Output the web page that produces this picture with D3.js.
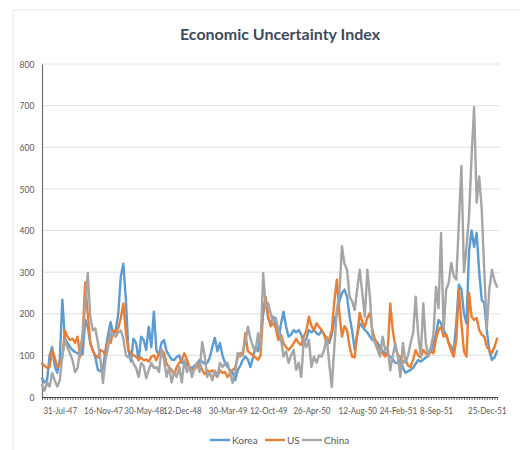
<!DOCTYPE html>
<html><head><meta charset="utf-8">
<script src="https://cdn.jsdelivr.net/npm/d3@7"></script>
<style>body{margin:0;background:#fff}svg{display:block}text{font-family:Lato,"Open Sans",sans-serif}</style>
</head><body><svg id="c" width="520" height="450"></svg>
<script>
const korea=[45,35,40,100,120,75,58,90,234,140,
130,120,113,108,105,103,103,185,168,130,
113,95,65,62,68,113,150,180,150,160,
200,290,320,233,113,85,140,130,88,145,
137,113,169,120,205,113,100,130,137,110,
100,90,89,96,100,82,85,78,72,70,
75,80,89,85,80,82,95,120,142,110,
130,100,82,72,65,58,40,65,75,89,
97,90,72,95,121,110,150,200,233,190,
177,193,170,137,175,205,170,145,150,161,
155,161,150,129,140,161,155,161,153,150,
160,150,137,130,150,185,200,230,250,258,
241,193,160,113,150,177,170,161,155,145,
137,137,130,121,110,105,100,97,90,82,
82,90,70,58,62,65,70,80,89,85,
90,95,100,110,129,150,185,177,161,150,
130,121,110,180,270,258,200,177,350,400,
361,394,300,233,225,160,110,89,95,110];
const us=[80,75,70,72,113,95,72,80,95,160,
145,137,140,130,145,96,150,275,200,130,
110,100,95,113,110,100,137,130,160,155,
165,190,225,155,113,105,100,97,90,95,
88,90,85,97,100,88,105,113,105,80,
72,65,55,72,82,90,105,90,72,64,
68,72,82,65,55,64,60,64,55,48,
64,58,60,48,58,65,70,96,105,100,
153,110,105,100,95,89,100,210,241,190,
170,177,165,137,150,129,120,113,120,129,
140,129,125,145,160,193,170,161,177,169,
161,150,129,140,160,230,282,200,145,170,
161,121,97,95,150,202,180,169,190,202,
160,137,120,113,105,97,110,225,160,121,
100,97,82,90,75,72,90,113,100,95,
113,105,100,110,105,140,161,169,145,150,
129,110,97,140,258,177,110,97,250,193,
185,190,161,150,145,120,113,105,120,140];
const china=[30,15,35,25,58,40,25,40,100,137,
120,105,89,60,70,113,150,220,298,193,
160,165,130,89,34,89,120,160,150,145,
155,160,140,100,95,97,80,70,48,82,
75,45,65,82,70,72,60,113,90,48,
72,35,60,48,72,35,89,60,72,48,
70,82,60,132,100,48,60,40,64,50,
82,72,80,82,58,34,60,106,97,110,
130,169,140,121,110,153,120,298,217,225,
200,177,190,161,140,97,110,82,100,113,
65,82,48,137,120,137,72,97,82,100,
97,113,145,80,24,120,209,250,362,320,
306,241,230,209,260,306,250,193,306,240,
145,130,113,97,145,113,120,64,100,129,
97,48,130,82,100,130,153,241,150,97,
225,130,97,121,150,265,213,394,161,258,
274,322,290,282,420,555,300,360,434,578,
696,467,530,450,300,165,260,306,280,265];
const xTickLabels=["31-Jul-47","16-Nov-47","30-May-48","12-Dec-48","30-Mar-49","12-Oct-49","26-Apr-50","12-Aug-50","24-Feb-51","8-Sep-51","25-Dec-51"];
const xTickIdx=[7,24,40,55,73,89,106,124,140,155,175];
const yTicks=[0,100,200,300,400,500,600,700,800];
const seriesNames=["Korea","US","China"];
const seriesColors=["#5B9BD5","#ED7D31","#A5A5A5"];
const title="Economic Uncertainty Index";

const svg=d3.select("#c");
svg.append("rect").attr("x",13).attr("y",10).attr("width",520).attr("height",460)
  .attr("fill","#fff").attr("stroke","#e3e3e3");

const n=korea.length;
const x=d3.scaleLinear().domain([0,n-1]).range([42,497]);
const y=d3.scaleLinear().domain([0,800]).range([397,64]);

// gridlines
svg.append("g").selectAll("line").data(yTicks.filter(d=>d>0)).join("line")
  .attr("x1",42).attr("x2",500).attr("y1",d=>y(d)).attr("y2",d=>y(d))
  .attr("stroke","#e0e0e0").attr("stroke-width",1);

// y axis
const ya=svg.append("g").attr("transform","translate(42,0)")
  .call(d3.axisLeft(y).tickValues(yTicks).tickSize(0).tickPadding(9));
ya.select(".domain").attr("stroke","#6e6e6e").attr("stroke-width",1.2);
ya.selectAll("text").attr("fill","#595959").attr("font-size",10)
  .attr("transform","scale(0.85,1)");

// x axis ticks
const xa=svg.append("g").attr("transform","translate(0,397)")
  .call(d3.axisBottom(x).tickValues(d3.range(n)).tickSize(3).tickSizeOuter(0).tickFormat(""));
xa.select(".domain").attr("stroke","#404040").attr("stroke-width",1.2);
xa.selectAll(".tick line").attr("stroke","#404040").attr("stroke-width",0.8);

// x labels
const xl=svg.append("g").attr("transform","translate(0,397)")
  .call(d3.axisBottom(x).tickValues(xTickIdx).tickSize(0).tickPadding(10)
  .tickFormat((d,i)=>xTickLabels[i]));
xl.select(".domain").remove();
xl.selectAll("text").attr("fill","#595959").attr("font-size",10)
  .attr("transform","scale(0.8,1)");

// lines
const line=d3.line().x((d,i)=>x(i)).y(d=>y(d)).curve(d3.curveLinear);
[korea,us,china].forEach((s,k)=>{
  svg.append("path").datum(s).attr("d",line).attr("fill","none")
    .attr("stroke",seriesColors[k]).attr("stroke-width",2.4)
    .attr("stroke-linejoin","round").attr("stroke-linecap","round");
});

// title
svg.append("text").attr("x",280).attr("y",40).attr("text-anchor","middle")
  .attr("font-size",16).attr("font-weight","bold").attr("fill","#3E4A5C").text(title);

// legend
const legX=[210,265,302];
const lg=svg.append("g");
seriesNames.forEach((nm,k)=>{
  lg.append("line").attr("x1",legX[k]).attr("x2",legX[k]+20).attr("y1",440).attr("y2",440)
    .attr("stroke",seriesColors[k]).attr("stroke-width",2.4);
  lg.append("text").attr("x",legX[k]+22).attr("y",443.5).attr("font-size",10)
    .attr("fill","#595959").text(nm);
});
</script></body></html>
